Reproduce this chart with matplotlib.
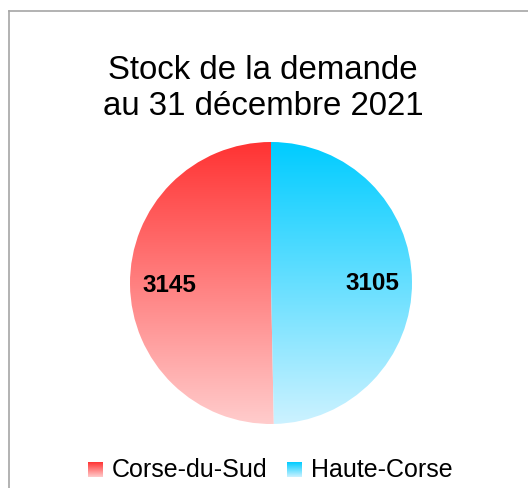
import numpy as np
import matplotlib
matplotlib.use("Agg")
import matplotlib.pyplot as plt
from matplotlib.colors import LinearSegmentedColormap
from matplotlib.lines import Line2D

title = "Stock de la demande\nau 31 décembre 2021"
categories = ["Corse-du-Sud", "Haute-Corse"]
values = [3145, 3105]
top_colors = ["#ff3333", "#00ccff"]
bottom_colors = ["#ffcccc", "#ccf2ff"]

plt.rcParams['font.family'] = ['Liberation Sans', 'DejaVu Sans']

W, H = 528, 488
fig = plt.figure(figsize=(W / 100, H / 100), dpi=100)

# frame lines (top and left)
fig.add_artist(Line2D([9 / W, 1], [1 - 11 / H, 1 - 11 / H], color="#a6a6a6", lw=1.2))
fig.add_artist(Line2D([9 / W, 9 / W], [0, 1 - 11 / H], color="#a6a6a6", lw=1.2))

fig.text(263 / W, 1 - 88.5 / H, title, ha="center", va="center", fontsize=23.8,
         linespacing=1.22, color="black")

cx, cy, r = 271, 283, 141
ax = fig.add_axes([(cx - r) / W, 1 - (cy + r) / H, 2 * r / W, 2 * r / H])
wedges, _ = ax.pie(values, startangle=90, counterclock=True, radius=1,
                   colors=["none", "none"], wedgeprops=dict(linewidth=0))
ax.set_xlim(-1, 1)
ax.set_ylim(-1, 1)
ax.set_aspect("equal")
ax.axis("off")

grad = np.linspace(0, 1, 256).reshape(-1, 1)
for w, tc, bc in zip(wedges, top_colors, bottom_colors):
    cmap = LinearSegmentedColormap.from_list("g", [tc, bc])
    im = ax.imshow(grad, cmap=cmap, extent=[-1, 1, -1, 1], origin="upper",
                   aspect="auto", zorder=1)
    im.set_clip_path(w)

total = sum(values)
angle = 90
for v, w in zip(values, wedges):
    span = 360 * v / total
    mid = np.deg2rad(angle + span / 2)
    angle += span
    ax.text(0.72 * np.cos(mid), 0.72 * np.sin(mid) - 0.01, str(v), ha="center", va="center",
            fontsize=17.5, fontweight="bold", color="black", zorder=3)

# legend
lax = fig.add_axes([0, 0, 1, 1], facecolor="none")
lax.axis("off")
sq = 15
legend_x = [88, 287]
for x0, name, tc, bc in zip(legend_x, categories, top_colors, bottom_colors):
    cmap = LinearSegmentedColormap.from_list("g", [tc, bc])
    lax.imshow(grad, cmap=cmap, extent=[x0, x0 + sq, 477, 462], origin="upper",
               aspect="auto", zorder=1)
    lax.text(x0 + sq + 9, 470, name, ha="left", va="center", fontsize=18, color="black")
lax.set_xlim(0, W)
lax.set_ylim(H, 0)

fig.savefig("out.png", dpi=100)
